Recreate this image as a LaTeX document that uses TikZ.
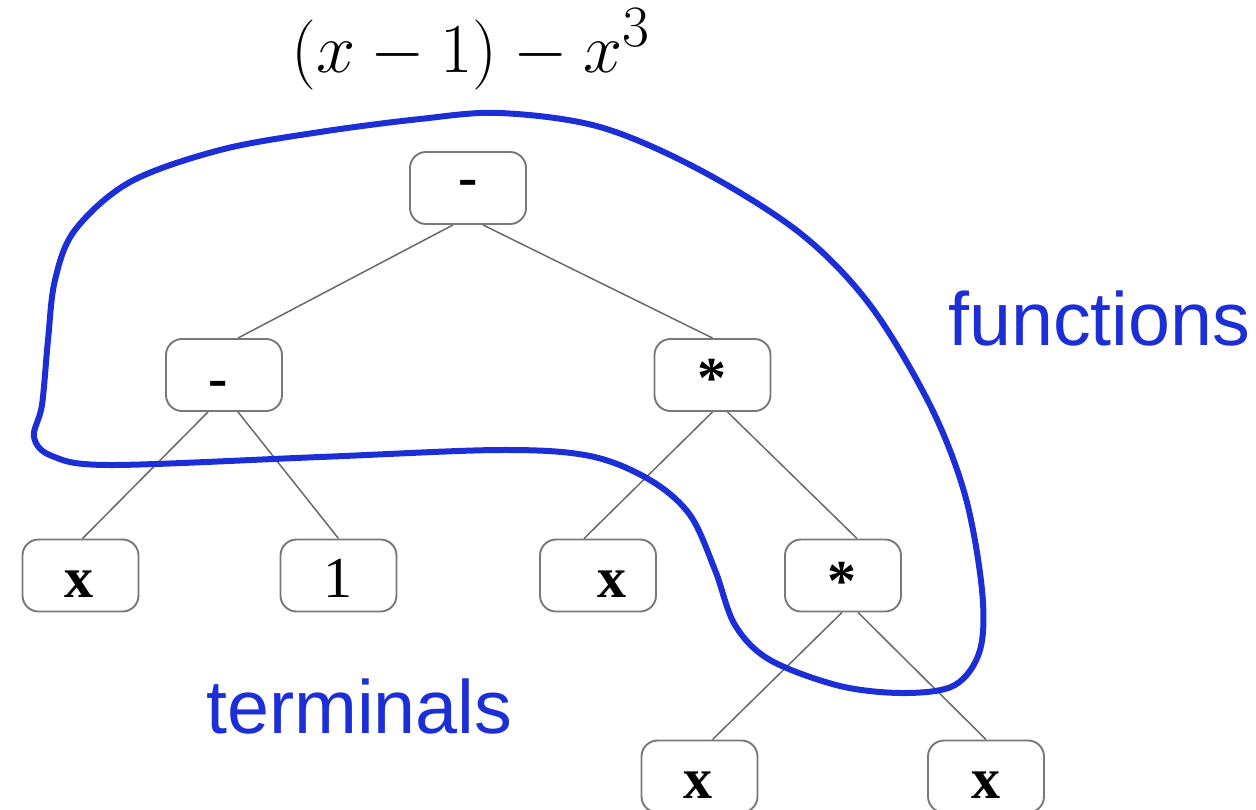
\documentclass[tikz,border=0pt]{standalone}
\usepackage{fontspec}
\usetikzlibrary{backgrounds}
\newfontfamily\treefont{Liberation Serif}
\newfontfamily\notefont{Liberation Sans}
\definecolor{loopblue}{RGB}{28,46,214}
\definecolor{boxgray}{RGB}{120,120,120}
\definecolor{edgegray}{RGB}{105,105,105}
\tikzset{
  treebox/.style={draw=boxgray, line width=1.9pt, rounded corners=16pt, fill=white,
    minimum width=116pt, minimum height=72pt, inner sep=0pt},
  opbold/.style={font=\fontsize{58}{60}\selectfont\treefont\bfseries, anchor=base, inner sep=0pt},
  opplain/.style={font=\fontsize{58}{60}\selectfont\treefont, anchor=base, inner sep=0pt},
  edge/.style={draw=edgegray, line width=1.5pt},
  note/.style={font=\fontsize{75.5}{80}\selectfont\notefont, text=loopblue, anchor=base west, inner sep=0pt},
  loop/.style={draw=loopblue, line width=6pt, line join=round}
}
\begin{document}
\begin{tikzpicture}[x=1pt, y=-1pt]
\useasboundingbox (0,0) rectangle (1256,809);

% formula (set at \Huge and enlarged)
\node[anchor=base, inner sep=0pt, font=\Huge, transform shape, scale=2.82] (formula) at (471,72) {$(x-1)-x^3$};

% tree boxes
\node[treebox] (r)  at (468,188) {};
\node[treebox] (m1) at (224,375) {};
\node[treebox] (m2) at (712.5,375) {};
\node[treebox] (t1) at (80.5,575.5) {};
\node[treebox] (t2) at (338.5,575.5) {};
\node[treebox] (t3) at (598,575.5) {};
\node[treebox] (m3) at (843,575.5) {};
\node[treebox] (t4) at (699.5,776.5) {};
\node[treebox] (t5) at (986,776.5) {};

% connectors, kept behind the boxes
\begin{scope}[on background layer]
\draw[edge] ([xshift=-15pt]r.south)  -- ([xshift=14pt]m1.north);
\draw[edge] ([xshift=15pt]r.south)   -- (m2.north);
\draw[edge] ([xshift=-16pt]m1.south) -- ([xshift=2pt]t1.north);
\draw[edge] ([xshift=14pt]m1.south)  -- (t2.north);
\draw[edge] (m2.south)               -- ([xshift=-14pt]t3.north);
\draw[edge] ([xshift=15pt]m2.south)  -- ([xshift=14pt]m3.north);
\draw[edge] ([xshift=-1pt]m3.south)  -- ([xshift=13pt]t4.north);
\draw[edge] ([xshift=15pt]m3.south)  -- (t5.north);
\end{scope}

% labels
\node[opbold] (lr)  at (468,196) {-};
\node[opbold] (lm1) at (218,397) {-};
\node[opbold] (lm2) at (712,397) {*};
\node[opbold] (lt1) at (79,597) {x};
\node[opplain] (lt2) at (338,597) {1};
\node[opbold] (lt3) at (612,597) {x};
\node[opbold] (lm3) at (842,600) {*};
\node[opbold] (lt4) at (698,798) {x};
\node[opbold] (lt5) at (986,798) {x};

% closed loop around the function nodes
\draw[loop] plot[smooth cycle, tension=0.55] coordinates {
  (42,405) (34,437) (52,456) (110,465) (320,457) (500,450) (590,456)
  (650,480) (690,515) (715,570) (735,625) (770,660) (840,686) (905,693)
  (955,685) (980,650) (982,590) (965,495) (930,405) (870,305) (800,233)
  (700,170) (600,127) (500,113) (420,119) (320,132) (220,150) (130,182)
  (75,230) (55,280) (48,340)
};

% captions
\node[note] (fn) at (948,345) {functions};
\node[note] (tm) at (206,733) {terminals};
\end{tikzpicture}
\end{document}
